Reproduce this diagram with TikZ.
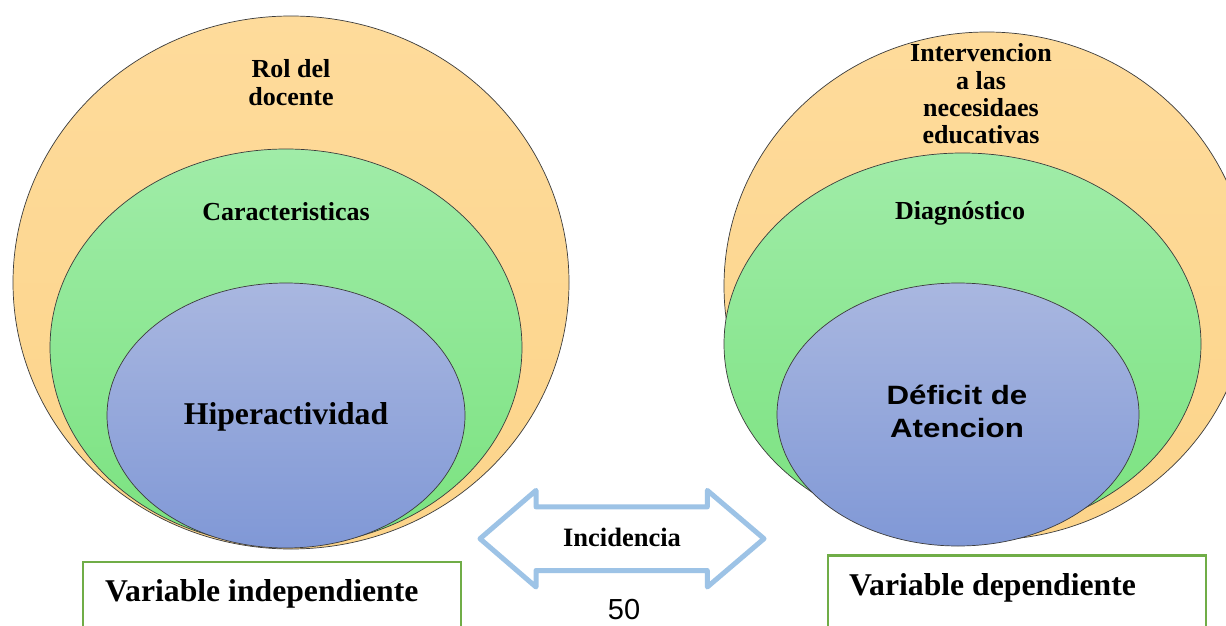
\documentclass[tikz,border=0pt]{standalone}
\usepackage{fontspec}
\setmainfont{Liberation Serif}
\newfontfamily\arialw[FakeStretch=1.18]{Liberation Sans}
\newfontfamily\arial{Liberation Sans}
\usetikzlibrary{shapes.geometric}
\definecolor{orT}{RGB}{254,219,155}
\definecolor{orB}{RGB}{252,212,138}
\definecolor{grT}{RGB}{160,236,168}
\definecolor{grB}{RGB}{122,226,127}
\definecolor{blT}{RGB}{169,183,224}
\definecolor{blB}{RGB}{128,152,214}
\definecolor{edgegray}{RGB}{60,60,60}
\definecolor{boxgreen}{RGB}{112,173,71}
\definecolor{arrblue}{RGB}{157,195,230}
\begin{document}
\begin{tikzpicture}[x=1pt,y=-1pt,
  ring/.style={ellipse, draw=edgegray, line width=0.7pt, inner sep=0pt},
  orring/.style={ring, top color=orT, bottom color=orB},
  grring/.style={ring, top color=grT, bottom color=grB},
  blring/.style={ring, top color=blT, bottom color=blB},
  lbl/.style={inner sep=0pt, font=\fontsize{26}{28}\selectfont\bfseries, align=center},
  biglbl/.style={inner sep=0pt, font=\fontsize{31.7}{34}\selectfont\bfseries},
  varbox/.style={draw=boxgreen, line width=2.2pt, fill=white, inner sep=0pt},
  arrowshape/.style={draw=arrblue, line width=5pt, line join=round}]
\useasboundingbox (0,0) rectangle (1226,626);
\clip (0,0) rectangle (1226,626);
\fill[white] (0,0) rectangle (1226,626);

% left group
\node[orring, minimum width=556, minimum height=533] (lo) at (291,282.5) {};
\node[grring, minimum width=472, minimum height=397] (lg) at (286,347.5) {};
\node[blring, minimum width=358, minimum height=265] (lb) at (286,415.5) {};
\node[lbl, anchor=north] (rol) at (291,59) {Rol del\\docente};
\node[lbl, anchor=base] (car) at (286,220) {Caracteristicas};
\node[biglbl, anchor=base] (hip) at (286,424.3) {Hiperactividad};

% right group
\node[orring, minimum width=526, minimum height=508] (ro) at (987,286) {};
\node[grring, minimum width=477, minimum height=382] (rg) at (962.5,344) {};
\node[blring, minimum width=362, minimum height=263] (rb) at (958,414.5) {};
\node[lbl, anchor=north, font=\fontsize{26}{27.4}\selectfont\bfseries] (int) at (981,43.4) {Intervencion\\a las\\necesidaes\\educativas};
\node[lbl, anchor=base] (dia) at (960,219.5) {Diagnóstico};
\node[inner sep=0pt, anchor=north, align=center, font=\fontsize{26.5}{32.4}\selectfont\arialw\bfseries] (def) at (957,385) {Déficit de\\Atencion};

% double arrow
\coordinate (arrc) at (622,538.7);
\draw[arrowshape, shift={(arrc)}] (-142,0) -- (-86,-48.3) -- (-86,-31.8) -- (85.3,-31.8) -- (85.3,-48.3) -- (142,0) -- (85.3,48.3) -- (85.3,31.8) -- (-86,31.8) -- (-86,48.3) -- cycle;
\node[inner sep=0pt, anchor=base, font=\fontsize{26.5}{28}\selectfont\bfseries] (inc) at (622,546.7) {Incidencia};

% variable boxes
\node[varbox, anchor=north west, minimum width=378, minimum height=120] (bl) at (82,560.5) {};
\node[biglbl, anchor=base west] (vi) at (105,601.7) {Variable independiente};
\node[varbox, anchor=north west, minimum width=378, minimum height=120] (br) at (827,554.3) {};
\node[biglbl, anchor=base west] (vd) at (849,595) {Variable dependiente};

\node[inner sep=0pt, anchor=base, font=\fontsize{29}{30}\selectfont\arial] (pg) at (624,619.3) {50};
\end{tikzpicture}
\end{document}
